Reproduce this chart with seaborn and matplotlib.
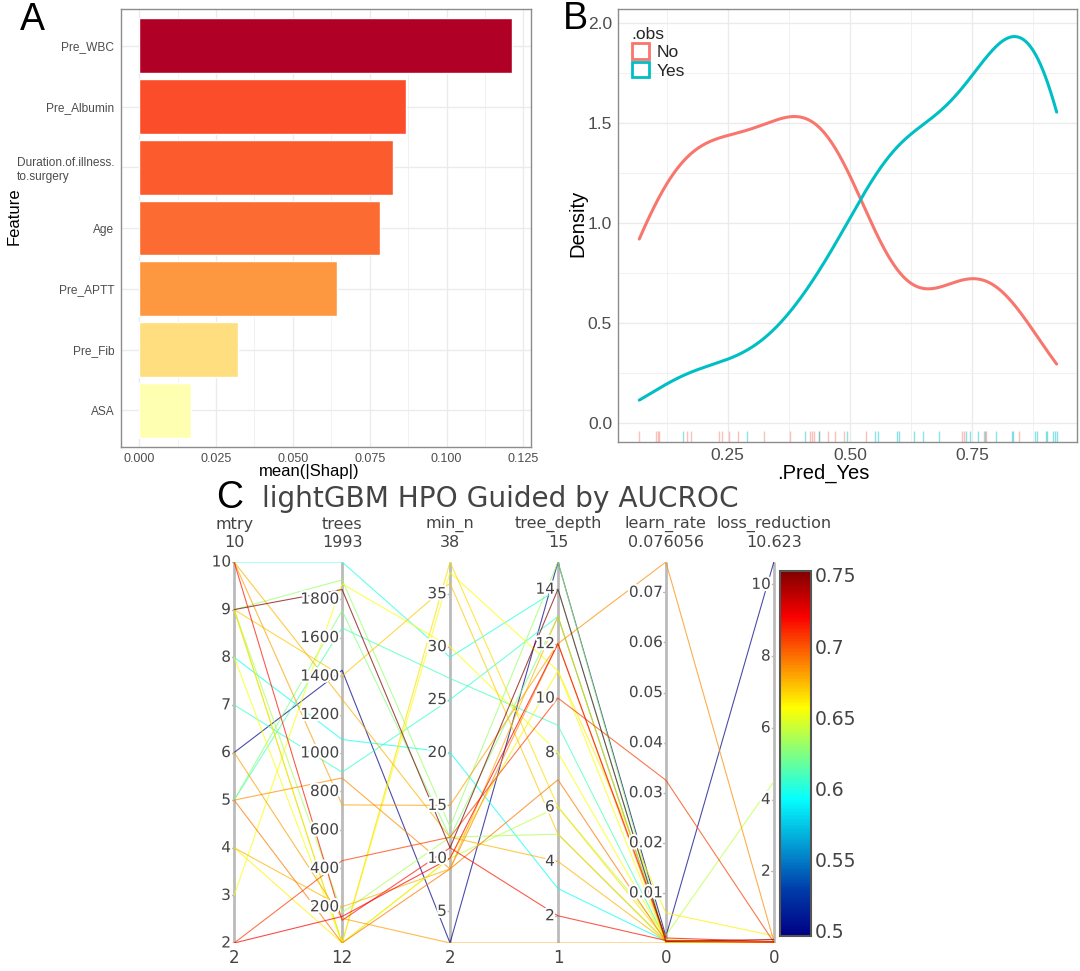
import numpy as np
import pandas as pd
import seaborn as sns
import matplotlib.pyplot as plt
import matplotlib.patheffects as pe
from matplotlib.colors import LinearSegmentedColormap, Normalize
from matplotlib.cm import ScalarMappable
from matplotlib.patches import Patch

# ---- panel A: mean |SHAP| per feature
features = ['Pre_WBC', 'Pre_Albumin', 'Duration.of.illness.\nto.surgery', 'Age',
            'Pre_APTT', 'Pre_Fib', 'ASA']
shap_vals = [0.1214, 0.0867, 0.0827, 0.0782, 0.0642, 0.0321, 0.0167]

# ---- panel B: predicted probability of Yes, split by observed class (rug values)
pred_no = [0.069, 0.103, 0.107, 0.109, 0.167, 0.174, 0.232, 0.239, 0.253, 0.272,
           0.324, 0.378, 0.418, 0.423, 0.426, 0.436, 0.456, 0.470, 0.487, 0.533,
           0.730, 0.734, 0.774, 0.778, 0.846]
pred_yes = [0.158, 0.289, 0.408, 0.436, 0.495, 0.552, 0.558, 0.596, 0.600, 0.631,
            0.650, 0.682, 0.738, 0.745, 0.762, 0.776, 0.798, 0.832, 0.834, 0.879,
            0.882, 0.901, 0.904, 0.916, 0.920, 0.923]

# ---- panel C: tuning grid results (one entry per candidate)
hp_names = ['mtry', 'trees', 'min_n', 'tree_depth', 'learn_rate', 'loss_reduction']
mtry = [6, 9, 10, 8, 7, 5, 9, 9, 5, 9, 10, 10, 2, 5, 9, 3, 4, 5, 6, 9, 4, 10, 2, 8]
trees = [1430, 1850, 1993, 1070, 900, 1650, 170, 1900, 1740, 12, 730, 130, 440, 870,
         1400, 1880, 12, 12, 140, 12, 200, 1280, 150, 12]
min_n = [2, 11, 29, 20, 25, 27, 12, 13, 12, 38, 15, 11, 12, 9, 36, 30, 10, 9, 2, 10,
         9, 12, 10, 37]
tree_depth = [15, 14, 14, 3, 13, 9, 5, 15, 13, 6, 12, 2, 10, 12, 5, 8, 11, 7, 1, 6,
              13, 4, 12, 11]
learn_rate = [0.0013, 0.0003, 0.0002, 0.0004, 0.0003, 0.0005, 0.0002, 0.0003, 0.0002,
              0.0006, 0.0004, 0.0005, 0.0325, 0.076056, 0.0004, 0.0006, 0.006, 0.0003,
              1e-10, 0.0015, 0.0002, 0.0003, 0.001, 0.0002]
loss_reduction = [10.623, 0.1, 0.05, 0.02, 0.03, 0.02, 0.02, 0.03, 0.01, 0.02, 0.01,
                  0.02, 0.02, 0.05, 0.01, 0.01, 0.2, 0.01, 1e-9, 4.5, 0.02, 0.04,
                  0.04, 0.01]
aucroc = [0.496, 0.753, 0.600, 0.595, 0.605, 0.610, 0.635, 0.630, 0.625, 0.665, 0.680,
          0.715, 0.705, 0.685, 0.670, 0.655, 0.660, 0.690, 0.680, 0.640, 0.675, 0.675,
          0.720, 0.655]
hp_ticks = [[2, 3, 4, 5, 6, 7, 8, 9, 10],
            [200, 400, 600, 800, 1000, 1200, 1400, 1600, 1800],
            [5, 10, 15, 20, 25, 30, 35],
            [2, 4, 6, 8, 10, 12, 14],
            [0.01, 0.02, 0.03, 0.04, 0.05, 0.06, 0.07],
            [2, 4, 6, 8, 10]]
cbar_ticks = [0.5, 0.55, 0.6, 0.65, 0.7, 0.75]

W, H = 1080, 971


def box(l, t, r, b):
    return [l / W, 1 - b / H, (r - l) / W, (b - t) / H]


def ftext(x, y, s, **kw):
    fig.text(x / W, 1 - y / H, s, ha=kw.pop('ha', 'center'), va=kw.pop('va', 'center'), **kw)


sns.set_style('white')
plt.rcParams['font.family'] = ['Liberation Sans', 'DejaVu Sans']
fig = plt.figure(figsize=(10.8, 9.71), dpi=100)

GRID = '#EBEBEB'
TXT = '#4D4D4D'
BORDER = '#8C8C8C'


def ggplot_frame(ax):
    for s in ax.spines.values():
        s.set_visible(True)
        s.set_color(BORDER)
        s.set_linewidth(1)
    ax.set_axisbelow(True)
    ax.grid(which='major', color=GRID, lw=1.0)
    ax.grid(which='minor', color=GRID, lw=0.5)
    ax.tick_params(which='major', colors=TXT, length=3, width=0.8, pad=1.5)
    ax.tick_params(which='minor', length=0)
    ax.set_xlabel('')
    ax.set_ylabel('')


# ---------------- A
axA = fig.add_axes(box(120.7, 9.3, 530.7, 446.7))
ylorrd = LinearSegmentedColormap.from_list(
    'ylorrd7', ['#ffffb2', '#fed976', '#feb24c', '#fd8d3c', '#fc4e2a', '#e31a1c', '#b10026'])
snorm = Normalize(min(shap_vals), max(shap_vals))
bar_cols = [ylorrd(snorm(v)) for v in shap_vals]
sns.barplot(x=shap_vals, y=features, hue=features, palette=bar_cols, saturation=1,
            width=0.9, legend=False, orient='h', ax=axA)
axA.set_xlim(-0.00605, 0.1274)
axA.set_ylim(6.6, -0.6)
axA.set_xticks([0, 0.025, 0.05, 0.075, 0.1, 0.125])
axA.set_xticklabels(['0.000', '0.025', '0.050', '0.075', '0.100', '0.125'])
axA.set_xticks(np.arange(0.0125, 0.13, 0.025), minor=True)
ggplot_frame(axA)
axA.grid(which='minor', axis='y', visible=False)
axA.tick_params(axis='x', labelsize=9)
axA.tick_params(axis='y', labelsize=8.6)
for lbl in axA.get_yticklabels():
    lbl.set_multialignment('left')
ftext(309, 471, 'mean(|Shap|)', fontsize=12, color='black')
ftext(13.8, 216, 'Feature', fontsize=12, rotation=90, color='black')
ftext(32.5, 20, 'A', fontsize=27, color='black')

# ---------------- B
axB = fig.add_axes(box(618.3, 9.3, 1076.7, 441.7))
red, cyan = '#F8766D', '#00BFC4'
lo = min(pred_no + pred_yes)
hi = max(pred_no + pred_yes)


def nrd0_adjust(v):
    v = np.asarray(v)
    sd = v.std(ddof=1)
    iqr = np.subtract(*np.percentile(v, [75, 25]))
    return 0.9 * min(sd, iqr / 1.34) / sd


for vals, col, extra in [(pred_no, red, 1.2), (pred_yes, cyan, 0.92)]:
    sns.kdeplot(x=vals, bw_adjust=nrd0_adjust(vals) * extra, cut=10, clip=(lo, hi),
                gridsize=512, color=col, lw=2.2, ax=axB)
    sns.rugplot(x=vals, color=col, alpha=0.45, height=0.025, lw=1, ax=axB)

axB.set_xlim(0.0261, 0.964)
axB.set_ylim(-0.095, 2.07)
axB.set_xticks([0.25, 0.5, 0.75])
axB.set_xticklabels(['0.25', '0.50', '0.75'])
axB.set_xticks([0.125, 0.375, 0.625, 0.875], minor=True)
axB.set_yticks([0, 0.5, 1, 1.5, 2])
axB.set_yticklabels(['0.0', '0.5', '1.0', '1.5', '2.0'])
axB.set_yticks([0.25, 0.75, 1.25, 1.75], minor=True)
ggplot_frame(axB)
axB.tick_params(labelsize=12.5)
handles = [Patch(facecolor='white', edgecolor=red, lw=2),
           Patch(facecolor='white', edgecolor=cyan, lw=2)]
leg = axB.legend(handles, ['No', 'Yes'], title='.obs', loc='upper left',
                 bbox_to_anchor=(0.01, 0.98), frameon=False, fontsize=12.5,
                 title_fontsize=12.5, handlelength=1.0, handleheight=1.0,
                 handletextpad=0.45, labelspacing=0.1, borderpad=0, alignment='left')
ftext(823, 473, '.Pred_Yes', fontsize=14.5, color='black')
ftext(578, 223, 'Density', fontsize=14.5, rotation=90, color='black')
ftext(575, 19, 'B', fontsize=27, color='black')

# ---------------- C
axC = fig.add_axes(box(232, 562, 776, 943))
axC.axis('off')

cols = [mtry, trees, min_n, tree_depth, learn_rate, loss_reduction]
jet = LinearSegmentedColormap.from_list('plotly_jet', [
    (0.0, (0 / 255, 0 / 255, 131 / 255)), (0.125, (0 / 255, 60 / 255, 170 / 255)),
    (0.375, (5 / 255, 1, 1)), (0.625, (1, 1, 0)), (0.875, (250 / 255, 0, 0)),
    (1.0, (128 / 255, 0, 0))])
cnorm = Normalize(min(aucroc), max(aucroc))

ranges = [(min(c), max(c)) for c in cols]
long = pd.DataFrame({
    'run': np.repeat(np.arange(len(aucroc)), len(cols)),
    'axis': np.tile(np.arange(len(cols)), len(aucroc)),
    'value': [(cols[j][i] - ranges[j][0]) / (ranges[j][1] - ranges[j][0])
              for i in range(len(aucroc)) for j in range(len(cols))],
    'auc': np.repeat(aucroc, len(cols)),
})
sns.lineplot(data=long, x='axis', y='value', units='run', estimator=None, hue='auc',
             palette=jet, hue_norm=cnorm, lw=0.8, alpha=0.7, legend=False, ax=axC)
axC.set_xlim(-0.02, 5.02)
axC.set_ylim(0, 1)

halo = [pe.withStroke(linewidth=3, foreground='white')]
CT = '#444444'
for j, (name, (rlo, rhi), ticks) in enumerate(zip(hp_names, ranges, hp_ticks)):
    axC.plot([j, j], [0, 1], color='#BBBBBB', lw=2, solid_capstyle='butt', zorder=1)
    for t in ticks:
        yy = (t - rlo) / (rhi - rlo)
        axC.plot([j - 0.03, j], [yy, yy], color='#BBBBBB', lw=1, zorder=1)
        axC.text(j - 0.03, yy, f'{t:g}', ha='right', va='center', fontsize=11, color=CT,
                 family='DejaVu Sans', path_effects=halo, zorder=5)
    axC.text(j, 1.0997, name, ha='center', va='center', fontsize=11.5, color=CT,
             family='DejaVu Sans', clip_on=False)
    axC.text(j, 1.0499, f'{round(rhi, 6):g}', ha='center', va='center', fontsize=11.5,
             color=CT, family='DejaVu Sans', clip_on=False)
    axC.text(j, -0.0394, f'{round(rlo, 6):g}', ha='center', va='center', fontsize=12,
             color=CT, family='DejaVu Sans', clip_on=False)

ftext(261.7, 499, 'lightGBM HPO Guided by AUCROC', ha='left', fontsize=20.2, color=CT,
      family='DejaVu Sans')
ftext(230, 498.5, 'C', fontsize=27, color='black')

cax = fig.add_axes(box(780, 570.7, 810.7, 936))
cb = fig.colorbar(ScalarMappable(norm=cnorm, cmap=jet), cax=cax)
cb.outline.set_edgecolor('#555555')
cb.outline.set_linewidth(1.5)
cb.set_ticks(cbar_ticks)
cb.set_ticklabels([f'{t:g}' for t in cbar_ticks])
cax.tick_params(length=0, labelsize=13.5, labelcolor=CT, pad=3)
for t in cax.get_yticklabels():
    t.set_family('DejaVu Sans')

fig.savefig('out.png', dpi=100)
